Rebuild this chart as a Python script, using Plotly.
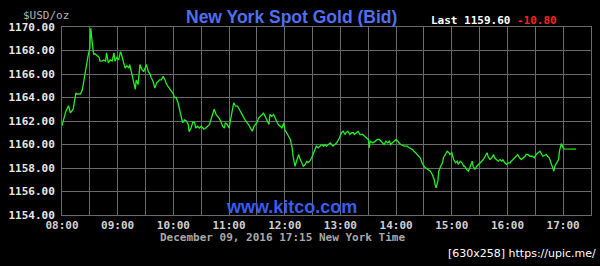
import plotly.graph_objects as go

DATE = "2016-12-09"

times = ["08:00","08:04","08:07","08:09","08:12","08:15","08:16","08:20","08:22","08:25",
"08:26","08:28","08:30","08:31","08:32","08:34","08:36","08:38","08:40","08:41",
"08:43","08:45","08:47","08:48","08:50","08:52","08:54","08:56","08:57","08:59",
"09:01","09:03","09:04","09:06","09:08","09:10","09:12","09:13","09:15","09:17",
"09:19","09:20","09:22","09:24","09:26","09:28","09:29","09:31","09:33","09:35",
"09:36","09:38","09:40","09:42","09:44","09:45","09:47","09:49","09:51","09:52",
"09:54","09:58","10:00","10:01","10:03","10:05","10:07","10:08","10:10","10:12",
"10:14","10:16","10:17","10:19","10:21","10:23","10:24","10:26","10:28","10:30",
"10:32","10:33","10:35","10:37","10:39","10:40","10:42","10:44","10:46","10:48",
"10:49","10:51","10:53","10:55","10:56","10:58","11:00","11:02","11:04","11:05",
"11:07","11:09","11:11","11:12","11:14","11:16","11:18","11:20","11:21","11:23",
"11:25","11:27","11:28","11:30","11:32","11:34","11:36","11:37","11:39","11:41",
"11:43","11:44","11:46","11:48","11:50","11:52","11:53","11:55","11:57","11:59",
"12:00","12:02","12:04","12:06","12:08","12:09","12:11","12:13","12:15","12:16",
"12:18","12:20","12:22","12:24","12:25","12:27","12:29","12:31","12:33","12:34",
"12:36","12:38","12:40","12:42","12:43","12:45","12:47","12:49","12:52","12:56",
"12:58","12:59","13:01","13:03","13:05","13:06","13:08","13:10","13:12","13:14",
"13:15","13:17","13:19","13:21","13:24","13:26","13:30","13:31","13:32","13:35",
"13:40","13:42","13:46","13:47","13:49","13:51","13:53","13:54","13:56","13:58",
"14:00","14:02","14:03","14:05","14:09","14:12","14:14","14:18","14:19","14:21",
"14:23","14:25","14:26","14:28","14:30","14:32","14:35","14:37","14:39","14:41",
"14:42","14:43","14:45","14:46","14:48","14:50","14:51","14:53","14:55","14:57",
"14:58","15:00","15:02","15:04","15:06","15:07","15:09","15:11","15:13","15:14",
"15:16","15:18","15:20","15:22","15:23","15:25","15:27","15:29","15:30","15:34",
"15:36","15:38","15:39","15:41","15:43","15:45","15:46","15:48","15:50","15:52",
"15:54","15:55","15:57","15:59","16:01","16:03","16:04","16:06","16:08","16:10",
"16:11","16:13","16:15","16:17","16:19","16:20","16:22","16:24","16:27","16:29",
"16:31","16:33","16:35","16:36","16:38","16:42","16:43","16:45","16:47","16:49",
"16:50","16:51","16:53","16:55","16:56","16:57","16:58","17:00","17:01","17:14"]

prices = [1161.6,1162.8,1163.3,1162.7,1163.0,1164.4,1164.3,1164.3,1164.7,1166.2,
1166.5,1167.5,1168.2,1169.9,1169.1,1167.7,1167.7,1167.5,1167.4,1167.1,
1167.1,1167.2,1167.1,1167.8,1166.95,1167.2,1167.1,1167.8,1167.1,1167.4,
1167.2,1167.9,1167.7,1167.1,1166.5,1166.7,1166.5,1166.8,1166.0,1165.25,
1164.7,1165.5,1165.1,1166.8,1166.4,1166.2,1166.4,1166.8,1166.2,1166.0,
1165.7,1165.4,1164.8,1165.25,1165.4,1165.5,1165.5,1165.8,1165.5,1165.25,
1164.96,1164.5,1164.3,1164.0,1164.0,1163.55,1162.8,1162.3,1161.85,1162.1,
1162.0,1161.7,1161.1,1161.4,1161.9,1161.85,1161.4,1161.56,1161.4,1161.56,
1161.4,1161.3,1161.4,1161.56,1161.7,1162.0,1162.55,1163.0,1162.55,1162.4,
1162.27,1162.0,1161.56,1161.4,1161.85,1161.7,1161.4,1162.27,1163.0,1163.55,
1163.26,1163.26,1163.0,1162.83,1162.55,1162.27,1162.0,1161.85,1161.7,1161.42,
1161.13,1161.56,1161.7,1161.85,1162.27,1162.4,1162.55,1162.7,1162.4,1161.98,
1161.7,1162.55,1162.4,1162.55,1162.13,1161.85,1161.7,1161.56,1161.42,1161.85,
1161.28,1161.0,1160.7,1160.43,1159.72,1159.0,1158.15,1158.58,1159.15,1158.87,
1158.44,1158.15,1158.3,1158.58,1158.44,1158.58,1158.87,1159.3,1159.57,1159.86,
1159.72,1159.86,1160.0,1159.86,1160.0,1159.86,1160.0,1160.14,1159.86,1160.14,
1160.43,1160.57,1161.0,1161.13,1160.85,1161.0,1161.13,1160.85,1161.0,1161.0,
1160.85,1161.0,1161.13,1160.85,1160.85,1160.7,1160.43,1159.72,1160.28,1160.14,
1160.43,1160.43,1160.14,1160.0,1160.28,1160.14,1160.28,1160.0,1160.14,1160.28,
1160.43,1160.28,1160.14,1160.0,1159.86,1159.86,1159.72,1159.57,1159.43,1159.3,
1159.15,1159.0,1158.87,1158.44,1158.15,1158.0,1157.87,1157.73,1157.45,1157.02,
1156.6,1156.31,1156.88,1157.73,1158.15,1158.44,1158.87,1159.15,1159.43,1159.3,
1159.15,1159.3,1158.72,1158.44,1158.58,1158.3,1158.58,1158.44,1158.15,1158.15,
1157.87,1157.73,1158.15,1158.58,1158.15,1157.87,1158.15,1158.3,1158.44,1158.72,
1159.0,1159.3,1159.0,1158.72,1158.87,1159.15,1158.87,1158.72,1158.58,1158.72,
1158.58,1158.72,1158.44,1158.3,1158.44,1158.44,1158.58,1158.72,1158.87,1159.0,
1159.15,1158.87,1158.72,1158.87,1159.0,1159.15,1159.15,1159.0,1159.0,1158.87,
1159.15,1159.3,1159.43,1159.3,1159.0,1159.15,1159.0,1158.87,1158.44,1158.0,
1157.73,1158.15,1158.44,1158.72,1159.43,1159.86,1160.08,1159.72,1159.63,1159.6]

y_ticks = [1154, 1156, 1158, 1160, 1162, 1164, 1166, 1168, 1170]
x_start, x_end = "08:00", "17:30"
title_text = "New York Spot Gold (Bid)"
unit_text = "$USD/oz"
last_price = "1159.60"
change = "-10.80"
footer_text = "December 09, 2016 17:15 New York Time"
site_text = "www.kitco.com"
watermark = "[630x258] https://upic.me/"

x = [f"{DATE} {t}" for t in times]

MONO = "DejaVu Sans Mono"
GRID = "#6a6a6a"

fig = go.Figure()
fig.add_trace(go.Scatter(x=x, y=prices, mode="lines",
                         line=dict(color="#22ee22", width=1.3), hoverinfo="skip"))

fig.update_layout(
    width=600, height=266,
    margin=dict(l=58, r=8, t=27, b=51),
    paper_bgcolor="black", plot_bgcolor="black",
    showlegend=False,
    xaxis=dict(
        type="date",
        range=[f"{DATE} {x_start}", f"{DATE} {x_end}"],
        dtick=3600000, tick0=f"{DATE} 08:00", tickformat="%H:%M",
        showgrid=True, gridcolor=GRID, gridwidth=1,
        minor=dict(dtick=1800000, showgrid=True, gridcolor=GRID, gridwidth=1),
        tickfont=dict(family=MONO, size=11, color="#d0d0d0", weight="bold"),
        ticks="", zeroline=False,
        showline=True, linecolor=GRID, mirror=True,
    ),
    yaxis=dict(
        range=[1154, 1170],
        tickvals=y_ticks, tickformat=".2f",
        showgrid=True, gridcolor=GRID, gridwidth=1,
        tickfont=dict(family=MONO, size=11, color="#e8e8e8", weight="bold"),
        ticks="", ticklabelstandoff=4, zeroline=False,
        showline=True, linecolor=GRID, mirror=True,
    ),
)

ann = [
    dict(text=title_text, x=290, y=17, font=dict(family="Liberation Sans", size=17.5, color="#4f6ef0", weight="bold")),
    dict(text=unit_text, x=42, y=16, font=dict(family=MONO, size=11, color="#b4b4b4")),
    dict(text="Last " + last_price, x=470, y=20, font=dict(family=MONO, size=11, color="#ffffff", weight="bold")),
    dict(text=change, x=537, y=20, font=dict(family=MONO, size=11, color="#ff2020", weight="bold")),
    dict(text=site_text, x=290, y=207, font=dict(family="Liberation Sans", size=18, color="#3a5cf0", weight="bold")),
    dict(text=footer_text, x=281, y=237, font=dict(family=MONO, size=11, color="#a8a8a8", weight="bold")),
    dict(text=watermark, x=522, y=253, font=dict(family="DejaVu Sans", size=11, color="#ffffff")),
]
for a in ann:
    fig.add_annotation(xref="paper", yref="paper",
                       x=a["x"] / 600 * 600 / 600 if False else (a["x"] - 58) / 534,
                       y=(215 - a["y"]) / 188,
                       text=a["text"], showarrow=False, font=a["font"],
                       xanchor="center", yanchor="middle")

fig.write_html("out.html")
